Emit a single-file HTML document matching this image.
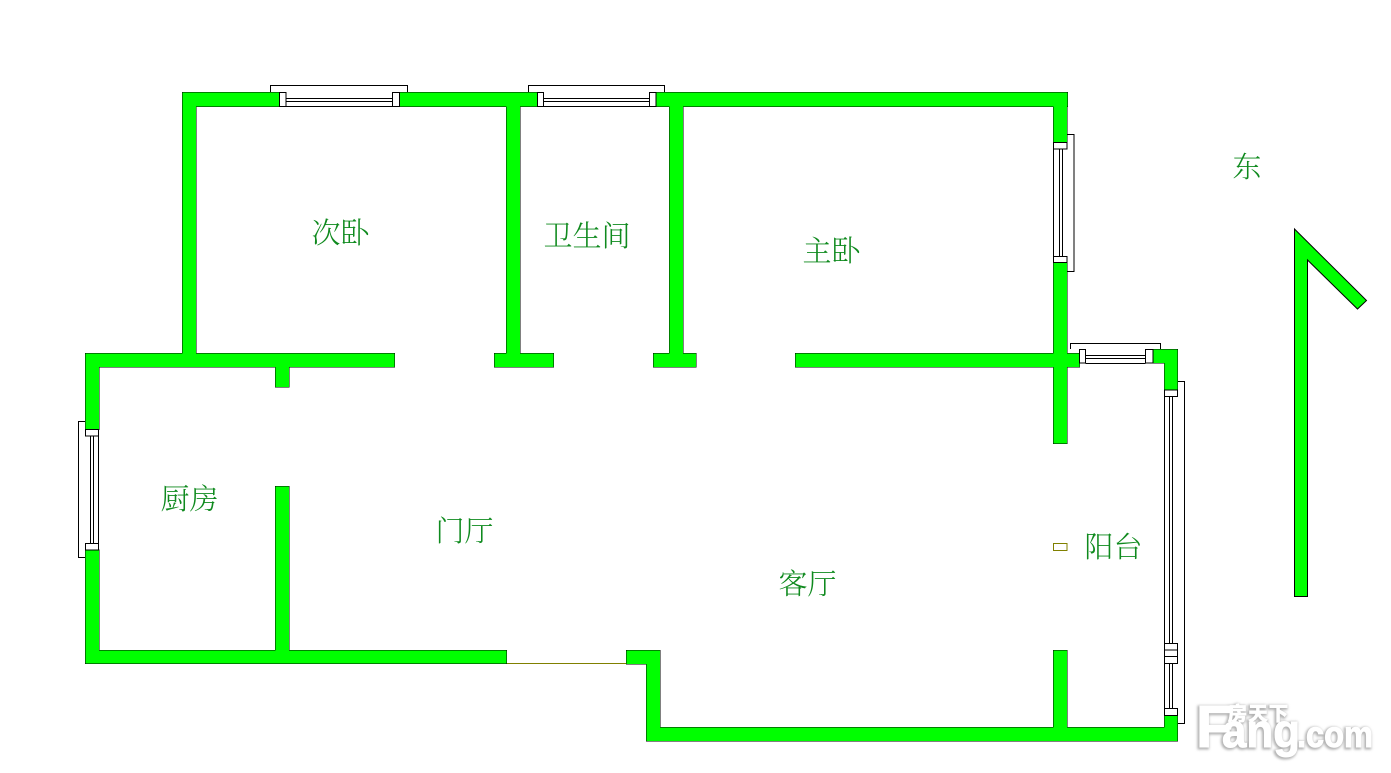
<!DOCTYPE html>
<html>
<head>
<meta charset="utf-8">
<style>
html,body{margin:0;padding:0;background:#fff;width:1391px;height:773px;overflow:hidden}
svg{display:block}
.l{font-family:"Liberation Serif","Noto Serif CJK SC",serif;font-size:29px;fill:#0f8a1e;font-weight:300}
.w{fill:#fff;stroke:#000;stroke-width:1}
.n{fill:none;stroke:#000;stroke-width:1}
</style>
</head>
<body>
<svg width="1391" height="773" viewBox="0 0 1391 773" xmlns="http://www.w3.org/2000/svg">
<defs>
<g id="walls">
<rect x="182.500" y="92.500" width="97" height="14"/>
<rect x="399.500" y="92.500" width="138" height="14"/>
<rect x="656" y="92.500" width="411.500" height="14"/>
<rect x="182.500" y="92.500" width="13.500" height="270"/>
<rect x="85.500" y="353.500" width="309" height="13.500"/>
<rect x="85.500" y="353.500" width="13.500" height="76"/>
<rect x="85.500" y="550" width="13.500" height="113.500"/>
<rect x="85.500" y="650.500" width="421" height="13"/>
<rect x="275.500" y="353.500" width="13.500" height="33.500"/>
<rect x="275.500" y="486.500" width="13.500" height="177"/>
<rect x="506.500" y="92.500" width="13.500" height="274.500"/>
<rect x="494.500" y="353.500" width="59" height="13.500"/>
<rect x="669.500" y="92.500" width="13.500" height="274.500"/>
<rect x="653.500" y="353.500" width="42.500" height="13.500"/>
<rect x="1053.500" y="92.500" width="13.500" height="50"/>
<rect x="1053.500" y="262.500" width="13.500" height="181"/>
<rect x="795.500" y="353.500" width="284" height="13.500"/>
<rect x="1153" y="349.500" width="24.500" height="13.500"/>
<rect x="1164.500" y="349.500" width="13" height="40.500"/>
<rect x="626.500" y="650.500" width="33.500" height="13.500"/>
<rect x="646.500" y="650.500" width="13.500" height="90.500"/>
<rect x="646.500" y="727.500" width="531" height="13.500"/>
<rect x="1053.500" y="650.500" width="13.500" height="90"/>
<rect x="1164.500" y="715.500" width="13" height="25.500"/>
</g>
<g id="wm">
<text x="1196" y="747" font-size="59">F</text>
<text x="1222" y="747" font-size="47" textLength="78" lengthAdjust="spacingAndGlyphs">ang</text>
<text x="1297" y="747" font-size="37" textLength="76" lengthAdjust="spacingAndGlyphs">.com</text>
<text x="1228" y="720" font-size="19" textLength="60">房天下</text>
</g>
<filter id="b" x="-10%" y="-10%" width="120%" height="120%"><feGaussianBlur stdDeviation="1.2"/></filter>
</defs>

<!-- window frames -->
<path class="n" d="M270.500 92V85.500H407.500V92M528.500 92V85.500H664.500V92"/>
<path class="n" d="M85 421.500H78.500V557.500H85"/>
<path class="n" d="M1067 134.500H1074V271.500H1067"/>
<path class="n" d="M1070.500 349V343.500H1160.500V349"/>
<path class="n" d="M1178 381.500H1184.500V723.500H1178"/>

<!-- window sashes -->
<path class="n" d="M286 98.500H392.500M286 101.500H392.500M286 106.500H392.500"/>
<path class="n" d="M543.500 98.500H649.500M543.500 101.500H649.500M543.500 106.500H649.500"/>
<path class="n" d="M90.500 436V543M93.500 436V543M98.500 436V543"/>
<path class="n" d="M1053.500 149V257M1059.500 149V257M1062.500 149V257"/>
<path class="n" d="M1085.500 355.500H1145.500M1085.500 358.500H1145.500M1085.500 363.500H1145.500"/>
<path class="n" d="M1164.500 396V643M1169.500 396V643M1172.500 396V643"/>
<path class="n" d="M1164.500 664V708M1169.500 664V708M1172.500 664V708"/>

<!-- wall outline + fill -->
<use href="#walls" fill="none" stroke="#000" stroke-width="1"/>
<use href="#walls" fill="#00ff00" stroke="none"/>

<!-- window pillars -->
<rect class="w" x="279.500" y="92.500" width="6.500" height="14"/>
<rect class="w" x="392.500" y="92.500" width="7" height="14"/>
<rect class="w" x="537.500" y="92.500" width="6" height="14"/>
<rect class="w" x="649.500" y="92.500" width="6.500" height="14"/>
<rect class="w" x="85.500" y="429.500" width="13" height="6.500"/>
<rect class="w" x="85.500" y="543.500" width="13" height="6.500"/>
<rect class="w" x="1053.500" y="142.500" width="13.500" height="6.500"/>
<rect class="w" x="1053.500" y="256.500" width="13.500" height="6"/>
<rect class="w" x="1079.500" y="349.500" width="6" height="13.500"/>
<rect class="w" x="1145.500" y="349.500" width="7.500" height="13.500"/>
<rect class="w" x="1164.500" y="390" width="13" height="6.500"/>
<rect class="w" x="1164.500" y="643.500" width="13" height="6.500"/>
<rect class="w" x="1164.500" y="650" width="13" height="6.500"/>
<rect class="w" x="1164.500" y="656.500" width="13" height="7"/>
<rect class="w" x="1164.500" y="708.500" width="13" height="7"/>

<!-- door threshold and small marker -->
<path d="M507 663.500H626" stroke="#808000" stroke-width="1" fill="none"/>
<rect x="1053.500" y="543.500" width="13.500" height="7" fill="#fff" stroke="#808000" stroke-width="1"/>

<!-- north arrow -->
<polygon points="1294.500,229 1366.500,300.500 1357.500,309 1307.500,260 1307.500,596.500 1294.500,596.500" fill="#00ff00" stroke="#000" stroke-width="1"/>

<!-- labels -->
<text class="l" x="311.500" y="243">次卧</text>
<text class="l" x="543.500" y="246">卫生间</text>
<text class="l" x="802.500" y="261">主卧</text>
<text class="l" x="160.500" y="509">厨房</text>
<text class="l" x="435.500" y="541">门厅</text>
<text class="l" x="778.500" y="594">客厅</text>
<text class="l" x="1084.500" y="557">阳台</text>
<text class="l" x="1232.500" y="177">东</text>

<!-- watermark -->
<g font-family="'Liberation Sans','Noto Sans CJK SC',sans-serif" font-weight="700">
<use href="#wm" filter="url(#b)" fill="#b0b0b0" stroke="#b0b0b0" stroke-width="3" transform="translate(-1,1)"/>
<use href="#wm" fill="#fff" stroke="#fff" stroke-width="1"/>
</g>
</svg>
</body>
</html>
